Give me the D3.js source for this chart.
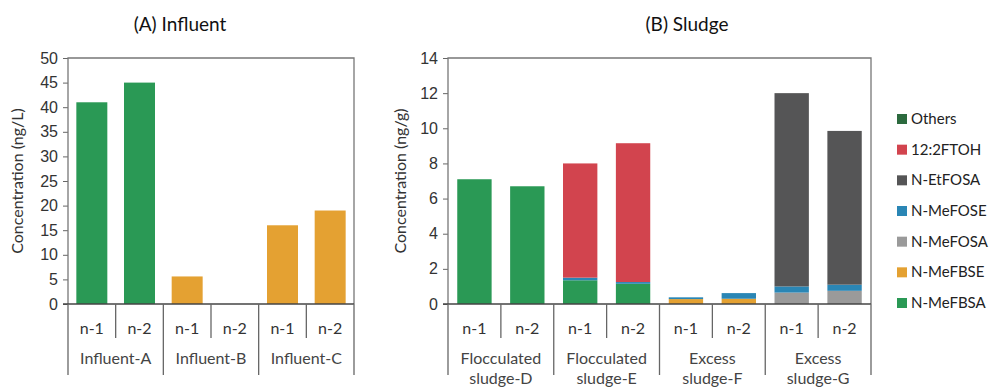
<!DOCTYPE html>
<html>
<head>
<meta charset="utf-8">
<script src="https://cdn.jsdelivr.net/npm/d3@7"></script>
<style>
  body { margin: 0; background: #fff; }
  svg { font-family: Lato, "Open Sans", sans-serif; }
</style>
</head>
<body>
<div id="chart"></div>
<script>
// chart size
const width = 991;
const height = 387;

// series (bottom to top of the stack)
const seriesNames = ["N-MeFBSA", "N-MeFBSE", "N-MeFOSA", "N-MeFOSE", "N-EtFOSA", "12:2FTOH", "Others"];
const seriesColors = ["#2a9955", "#e4a132", "#9a9a9a", "#2a86b5", "#555556", "#d2444e", "#2c6a3e"];

// sample labels
const samples = ["n-1", "n-2"];

// (A) influent
const influentGroups = ["Influent-A", "Influent-B", "Influent-C"];
const influentMeFBSA = [41, 45, 0, 0, 0, 0];
const influentMeFBSE = [0, 0, 5.6, 0, 16, 19];
const influentTicks = [0, 5, 10, 15, 20, 25, 30, 35, 40, 45, 50];

// (B) sludge
const sludgeGroups = [["Flocculated", "sludge-D"], ["Flocculated", "sludge-E"], ["Excess", "sludge-F"], ["Excess", "sludge-G"]];
const sludgeMeFBSA = [7.1, 6.7, 1.35, 1.15, 0, 0, 0, 0];
const sludgeMeFBSE = [0, 0, 0, 0, 0.28, 0.3, 0, 0];
const sludgeMeFOSA = [0, 0, 0, 0, 0, 0, 0.65, 0.75];
const sludgeMeFOSE = [0, 0, 0.15, 0.1, 0.1, 0.32, 0.35, 0.35];
const sludgeEtFOSA = [0, 0, 0, 0, 0, 0, 11.0, 8.75];
const sludgeFTOH = [0, 0, 6.5, 7.9, 0, 0, 0, 0];
const sludgeOthers = [0, 0, 0, 0, 0, 0, 0, 0];
const sludgeTicks = [0, 2, 4, 6, 8, 10, 12, 14];

const svg = d3.select("#chart").append("svg")
  .attr("width", width)
  .attr("height", height);

// build rows {key, N-MeFBSA: .., ...} for the stack
function buildRows(groups, cols) {
  const rows = [];
  groups.forEach((g, gi) => {
    samples.forEach((s, si) => {
      const i = gi * samples.length + si;
      const row = {key: i};
      seriesNames.forEach((n, k) => { row[n] = cols[k] ? cols[k][i] : 0; });
      rows.push(row);
    });
  });
  return rows;
}

function drawPanel(opt) {
  const g = svg.append("g");
  const rows = buildRows(opt.groups, opt.cols);

  const x = d3.scaleBand()
    .domain(rows.map(d => d.key))
    .range([opt.left, opt.right])
    .paddingInner(opt.pad)
    .paddingOuter(opt.pad / 2);

  const y = d3.scaleLinear()
    .domain([0, opt.max])
    .range([opt.bottom, opt.top]);

  const stack = d3.stack().keys(seriesNames)(rows);

  g.selectAll("g.layer")
    .data(stack)
    .join("g")
      .attr("class", "layer")
      .attr("fill", (d, i) => seriesColors[i])
    .selectAll("rect")
    .data(d => d)
    .join("rect")
      .attr("x", d => x(d.data.key))
      .attr("y", d => y(d[1]))
      .attr("width", x.bandwidth())
      .attr("height", d => Math.max(0, y(d[0]) - y(d[1])));

  // y axis
  const yAxis = g.append("g")
    .attr("transform", `translate(${opt.left},0)`)
    .call(d3.axisLeft(y).tickValues(opt.ticks).tickSize(5).tickPadding(5));
  yAxis.select(".domain").remove();
  yAxis.selectAll("line").attr("stroke", "#666");
  yAxis.selectAll("text").attr("font-size", 16).attr("fill", "#333");

  // plot box (top, right, left) and base line
  g.append("path")
    .attr("d", `M${opt.left},${opt.bottom}V${opt.top}H${opt.right}V${opt.bottom}`)
    .attr("fill", "none").attr("stroke", "#777").attr("stroke-width", 1.3);
  g.append("line")
    .attr("x1", opt.left - 5).attr("x2", opt.right)
    .attr("y1", opt.bottom).attr("y2", opt.bottom)
    .attr("stroke", "#444").attr("stroke-width", 1.5);

  // multi-level category axis
  const step = x.step();
  const nPer = samples.length;
  const edge = i => opt.left + x.paddingOuter() * step + i * step - x.paddingInner() * step / 2;
  for (let i = 0; i <= rows.length; i++) {
    const xx = i === 0 ? opt.left : (i === rows.length ? opt.right : edge(i));
    const isGroup = i % nPer === 0;
    g.append("line")
      .attr("x1", xx).attr("x2", xx)
      .attr("y1", opt.bottom).attr("y2", isGroup ? opt.bottom + 71 : opt.bottom + 34)
      .attr("stroke", "#666").attr("stroke-width", 1.3);
  }
  rows.forEach((d, i) => {
    g.append("text")
      .attr("x", x(d.key) + x.bandwidth() / 2)
      .attr("y", opt.bottom + 30)
      .attr("text-anchor", "middle")
      .attr("font-size", 16).attr("fill", "#333")
      .text(samples[i % nPer]);
  });
  opt.groups.forEach((grp, gi) => {
    const cx = (x(rows[gi * nPer].key) + x(rows[gi * nPer + nPer - 1].key) + x.bandwidth()) / 2;
    const lines = Array.isArray(grp) ? grp : [grp];
    lines.forEach((t, li) => {
      g.append("text")
        .attr("x", cx)
        .attr("y", opt.bottom + 60 + li * 20)
        .attr("text-anchor", "middle")
        .attr("font-size", 16).attr("fill", "#444")
        .text(t);
    });
  });

  // y label
  g.append("text")
    .attr("transform", `translate(${opt.labelX},${(opt.top + opt.bottom) / 2}) rotate(-90)`)
    .attr("text-anchor", "middle")
    .attr("font-size", 16).attr("fill", "#333")
    .text(opt.yLabel);

  // title
  g.append("text")
    .attr("x", opt.titleX).attr("y", 31)
    .attr("text-anchor", "middle")
    .attr("font-size", 19).attr("fill", "#111")
    .text(opt.title);
}

drawPanel({
  groups: influentGroups,
  cols: [influentMeFBSA, influentMeFBSE],
  left: 68, right: 354, top: 58, bottom: 304,
  max: 50, ticks: influentTicks, pad: 0.35,
  yLabel: "Concentration (ng/L)", labelX: 23,
  title: "(A) Influent", titleX: 180
});

drawPanel({
  groups: sludgeGroups,
  cols: [sludgeMeFBSA, sludgeMeFBSE, sludgeMeFOSA, sludgeMeFOSE, sludgeEtFOSA, sludgeFTOH, sludgeOthers],
  left: 448, right: 871, top: 58, bottom: 304,
  max: 14, ticks: sludgeTicks, pad: 0.35,
  yLabel: "Concentration (ng/g)", labelX: 406,
  title: "(B) Sludge", titleX: 687
});

// legend (top item = last series)
const legendItems = seriesNames.slice().reverse();
const legendColors = seriesColors.slice().reverse();
const legendY = d3.scalePoint().domain(legendItems).range([119, 303]);
const legend = svg.append("g");
legendItems.forEach((n, i) => {
  legend.append("rect")
    .attr("x", 897).attr("y", legendY(n) - 5)
    .attr("width", 10).attr("height", 10)
    .attr("fill", legendColors[i]);
  legend.append("text")
    .attr("x", 911).attr("y", legendY(n) + 5)
    .attr("font-size", 15).attr("fill", "#222")
    .text(n);
});
</script>
</body>
</html>
